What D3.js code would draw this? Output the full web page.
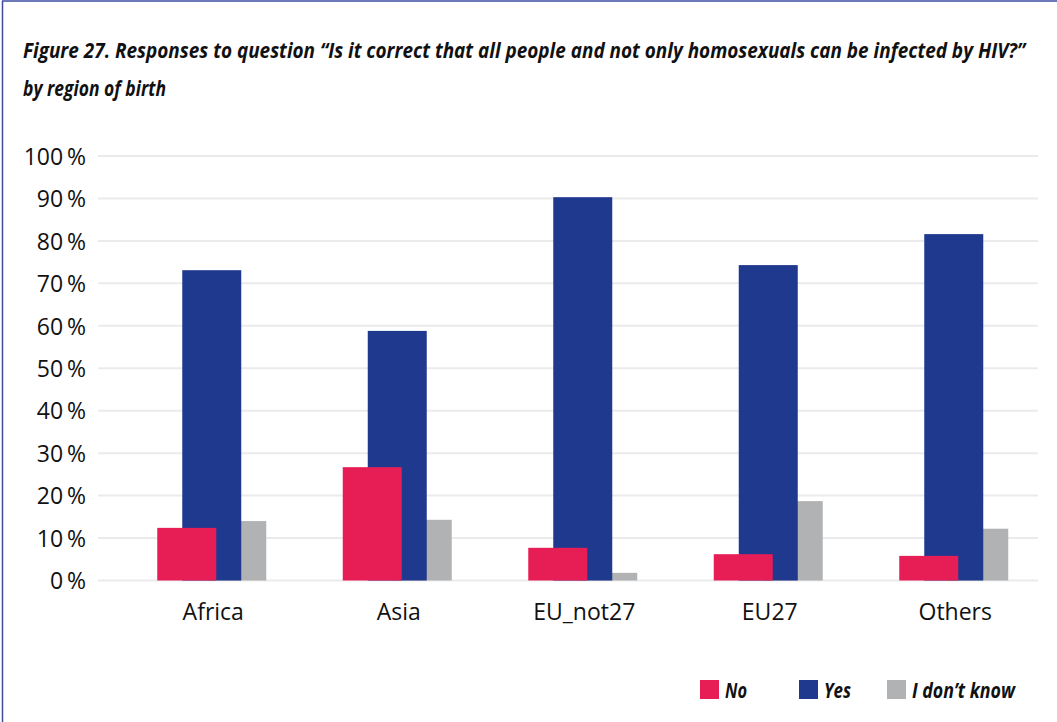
<!DOCTYPE html>
<html>
<head>
<meta charset="utf-8">
<script src="https://cdn.jsdelivr.net/npm/d3@7"></script>
<style>
  html, body { margin: 0; padding: 0; background: #fff; }
  svg { display: block; }
</style>
</head>
<body>
<svg id="chart" width="1057" height="722"></svg>
<script>
// Regions of birth and the share of each answer (%)
const regions = ["Africa", "Asia", "EU_not27", "EU27", "Others"];
const noValues = [12.4, 26.7, 7.7, 6.2, 5.8];
const yesValues = [73.1, 58.8, 90.3, 74.3, 81.6];
const dontKnowValues = [14.0, 14.3, 1.8, 18.7, 12.2];
const seriesNames = ["No", "Yes", "I don\u2019t know"];
const yTicks = [0, 10, 20, 30, 40, 50, 60, 70, 80, 90, 100];

const colors = { "No": "#e61e55", "Yes": "#1f398f", "I don\u2019t know": "#b1b2b4" };
const seriesValues = { "No": noValues, "Yes": yesValues, "I don\u2019t know": dontKnowValues };

const svg = d3.select("#chart");

// Frame lines (top and left edges)
svg.append("line").attr("x1", 2).attr("x2", 1057).attr("y1", 1).attr("y2", 1)
  .attr("stroke", "#3b4ba0").attr("stroke-width", 1.5);
svg.append("line").attr("x1", 2.5).attr("x2", 2.5).attr("y1", 1).attr("y2", 722)
  .attr("stroke", "#3b4ba0").attr("stroke-width", 1.5);

// Condensed bold italic text: horizontally squeezed to a set width
const condFont = "'Liberation Sans Narrow', 'Open Sans', sans-serif";
function condensedText(parent, str, x0, y0, size, width) {
  const t = parent.append("text")
    .attr("x", 0).attr("y", 0)
    .attr("font-family", condFont).attr("font-weight", "bold")
    .attr("font-style", "italic").attr("font-size", size).attr("fill", "#111")
    .text(str);
  const natural = t.node().getComputedTextLength();
  const sx = natural > 0 ? width / natural : 1;
  t.attr("transform", `translate(${x0},${y0}) scale(${sx},1)`);
  return t;
}

// Title
condensedText(svg, "Figure 27. Responses to question \u201cIs it correct that all people and not only homosexuals can be infected by HIV?\u201d",
  23, 58, 22, 1003);
condensedText(svg, "by region of birth", 23, 96, 22, 143);

// Scales
const y = d3.scaleLinear().domain([0, 100]).range([580.5, 156]);
const x = d3.scaleBand().domain(regions).range([119, 1046.5]).padding(0);
const inner = d3.scalePoint().domain(seriesNames).range([-25, 25]);
const barWidth = 59;

// Gridlines
svg.append("g").selectAll("line").data(yTicks).join("line")
  .attr("x1", 98).attr("x2", 1038)
  .attr("y1", d => y(d)).attr("y2", d => y(d))
  .attr("stroke", "#ebebeb").attr("stroke-width", 2);

// Y axis labels
const yAxis = d3.axisLeft(y).tickValues(yTicks).tickSize(0).tickPadding(0)
  .tickFormat(d => d + "\u2009%");
svg.append("g").attr("transform", "translate(86,0)").call(yAxis)
  .call(g => g.select(".domain").remove())
  .call(g => g.selectAll("text")
    .attr("font-family", "'Open Sans', sans-serif").attr("font-size", 23)
    .attr("fill", "#111").attr("dy", "0.36em"));

// X axis labels
const xAxis = d3.axisBottom(x).tickSize(0).tickPadding(0);
svg.append("g").attr("transform", "translate(1.5,620)").call(xAxis)
  .call(g => g.select(".domain").remove())
  .call(g => g.selectAll("text")
    .attr("font-family", "'Open Sans', sans-serif").attr("font-size", 23)
    .attr("fill", "#111").attr("dy", "0"));

// Bars: drawn back to front so "No" overlaps "Yes", which overlaps "I don't know"
const drawOrder = ["I don\u2019t know", "Yes", "No"];
drawOrder.forEach(s => {
  svg.append("g").selectAll("rect").data(regions).join("rect")
    .attr("x", (r) => x(r) + x.bandwidth() / 2 + inner(s) - barWidth / 2)
    .attr("width", barWidth)
    .attr("y", (r, i) => y(seriesValues[s][i]))
    .attr("height", (r, i) => y(0) - y(seriesValues[s][i]))
    .attr("fill", colors[s]);
});

// Legend
const legendX = [700, 799, 887];
const legendTextWidth = [22, 27, 103];
const legend = svg.append("g");
seriesNames.forEach((s, i) => {
  legend.append("rect").attr("x", legendX[i]).attr("y", 680)
    .attr("width", 19).attr("height", 19).attr("fill", colors[s]);
  condensedText(legend, s, legendX[i] + 25, 698, 22, legendTextWidth[i]);
});
</script>
</body>
</html>
